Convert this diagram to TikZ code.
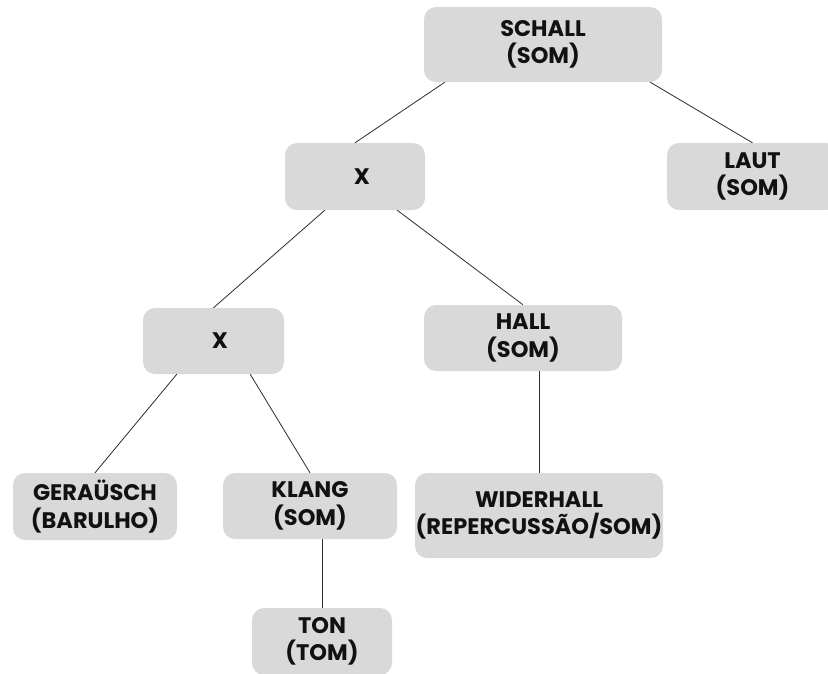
\documentclass[tikz,border=0pt]{standalone}
\usepackage{fontspec}
\setmainfont{Poppins}
\usepackage{xcolor}
\usepackage{tikz}
\usetikzlibrary{positioning,calc}
\definecolor{boxfill}{HTML}{D9D9D9}
\definecolor{ink}{HTML}{111111}
\definecolor{wire}{HTML}{2B2B2B}

\tikzset{
  wordbox/.style={fill=boxfill, rounded corners=12pt, align=center, inner sep=0pt,
                  font=\fontsize{22.5}{27.5}\selectfont\bfseries, text=ink},
  link/.style={draw=wire, line width=0.8pt}
}

\begin{document}
\begin{tikzpicture}[x=1pt,y=-1pt]
  \useasboundingbox (0,0) rectangle (828,673);
  % boxes
  \node[wordbox, minimum width=238pt, minimum height=75pt] (schall) at (543,44.5) {SCHALL\\(SOM)};
  \node[wordbox, minimum width=140pt, minimum height=67pt] (xtop) at (355,176.5) {\hspace*{14pt}X};
  \node[wordbox, minimum width=171pt, minimum height=67pt] (laut) at (752.5,176.5) {LAUT\\(SOM)};
  \node[wordbox, minimum width=141pt, minimum height=66pt] (xmid) at (213.5,341) {\hspace*{13pt}X};
  \node[wordbox, minimum width=198pt, minimum height=66pt] (hall) at (523,338) {HALL\\(SOM)};
  \node[wordbox, minimum width=164pt, minimum height=67pt] (gerausch) at (95,506.5) {GERAÜSCH\\(BARULHO)};
  \node[wordbox, minimum width=174pt, minimum height=66pt] (klang) at (310,506) {KLANG\\(SOM)};
  \node[wordbox, minimum width=248pt, minimum height=85pt] (widerhall) at (539,515.5) {WIDERHALL\\(REPERCUSSÃO/SOM)};
  \node[wordbox, minimum width=140pt, minimum height=67pt] (ton) at (322,641.5) {TON\\(TOM)};
  % links
  \draw[link] ([xshift=21pt]schall.south west) -- (xtop.north);
  \draw[link] ([xshift=-12pt]schall.south east) -- (laut.north);
  \draw[link] ([xshift=40pt]xtop.south west) -- (xmid.north);
  \draw[link] ([xshift=-28pt]xtop.south east) -- (hall.north);
  \draw[link] ([xshift=34pt]xmid.south west) -- (gerausch.north);
  \draw[link] ([xshift=-34pt]xmid.south east) -- (klang.north);
  \draw[link] (klang.south -| ton.north) -- (ton.north);
  \draw[link] (hall.south -| widerhall.north) -- (widerhall.north);
\end{tikzpicture}
\end{document}
